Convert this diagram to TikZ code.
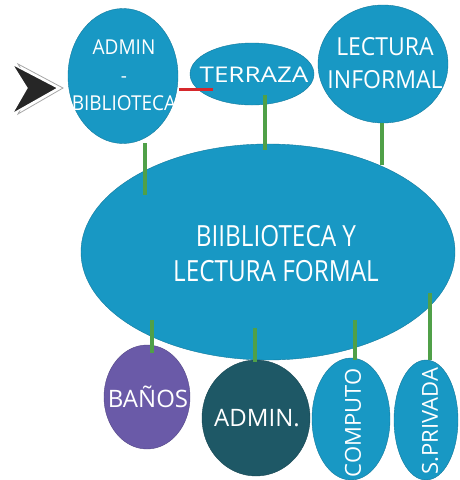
\documentclass[tikz,border=0pt]{standalone}
\usepackage{fontspec}
\setmainfont{Open Sans}
\usetikzlibrary{shapes.geometric}
\definecolor{cblue}{RGB}{24,152,196}
\definecolor{cpurple}{RGB}{106,90,168}
\definecolor{cdark}{RGB}{30,88,102}
\definecolor{cgreen}{RGB}{80,160,72}
\definecolor{cred}{RGB}{214,40,44}
\newcommand{\sxx}[2]{\scalebox{#1}[1.08]{#2}}
\tikzset{
  blob/.style={ellipse, fill=cblue, draw=cblue!80!black, line width=0.4pt, inner sep=0pt},
  txt/.style={text=white, align=center, inner sep=0pt},
  gline/.style={draw=cgreen, line width=3.5pt},
  rline/.style={draw=cred, line width=3pt},
}
\begin{document}
\begin{tikzpicture}[x=1pt,y=-1pt]
\useasboundingbox (0,0) rectangle (460,480);
\fill[white] (0,0) rectangle (460,480);
% entry arrow
\filldraw[fill=white, draw=gray!70, line width=0.8pt] (18,64) -- (63,88) -- (18,114) -- (32,88) -- cycle;
\filldraw[fill=black!85, draw=white, line width=1.3pt] (12,64) -- (58,88) -- (12,114) -- (27,88) -- cycle;
% shapes
\node[blob, minimum width=110pt, minimum height=135pt] (admin) at (123,76) {};
\node[blob, minimum width=124pt, minimum height=62pt] (terraza) at (252,74) {};
\node[blob, minimum width=130pt, minimum height=118pt] (lectura) at (383,64) {};
\node[blob, minimum width=374pt, minimum height=216pt] (big) at (268,252) {};
\node[blob, fill=cpurple, draw=cpurple!80!black, minimum width=86pt, minimum height=104pt] (banos) at (147,397) {};
\node[blob, fill=cdark, draw=cdark!80!black, minimum width=108pt, minimum height=116pt] (adminb) at (256,418) {};
\node[blob, minimum width=78pt, minimum height=122pt] (computo) at (351,419) {};
\node[blob, minimum width=64pt, minimum height=120pt] (privada) at (426,420) {};
% texts
\node[txt, font=\fontsize{19}{28}\selectfont] (admint) at (124,75) {\sxx{1}{ADMIN}\\-\\\sxx{1}{BIBLIOTECA}};
\node[txt, font=\fontsize{20}{24}\selectfont] (terrazat) at (254,75) {\sxx{1.3}{TERRAZA}};
\node[txt, font=\fontsize{23}{33}\selectfont] (lecturat) at (385,63) {\sxx{1}{LECTURA}\\\sxx{1}{INFORMAL}};
\node[txt, font=\fontsize{27}{35}\selectfont] (bigt) at (276,254) {\sxx{0.9}{BIIBLIOTECA Y}\\\sxx{0.9}{LECTURA FORMAL}};
\node[txt, font=\fontsize{24}{28}\selectfont] (banost) at (148,397) {BAÑOS};
\node[txt, font=\fontsize{24}{28}\selectfont] (adminbt) at (257,418) {ADMIN.};
\node[txt, rotate=90, font=\fontsize{22}{26}\selectfont] (computot) at (353,423) {COMPUTO};
\node[txt, rotate=90, font=\fontsize{22}{26}\selectfont] (privadat) at (430,421) {S.PRIVADA};
% connectors
\draw[rline] ([xshift=56pt,yshift=-13pt]admin.center) -- ([xshift=-39pt,yshift=-15pt]terraza.center);
\draw[gline] ([xshift=22pt,yshift=-67pt]admin.center) -- ([xshift=-123pt,yshift=57pt]big.center);
\draw[gline] ([xshift=13pt,yshift=-21pt]terraza.center) -- ([xshift=-3pt,yshift=102pt]big.center);
\draw[gline] ([xshift=-1pt,yshift=-59pt]lectura.center) -- ([xshift=114pt,yshift=87pt]big.center);
\draw[gline] ([xshift=-116pt,yshift=-68pt]big.center) -- ([xshift=5pt,yshift=44pt]banos.center);
\draw[gline] ([xshift=-13pt,yshift=-76pt]big.center) -- ([xshift=-1pt,yshift=56pt]adminb.center);
\draw[gline] ([xshift=87pt,yshift=-68pt]big.center) -- ([xshift=4pt,yshift=59pt]computo.center);
\draw[gline] ([xshift=162pt,yshift=-41pt]big.center) -- ([xshift=4pt,yshift=60pt]privada.center);
\end{tikzpicture}
\end{document}
